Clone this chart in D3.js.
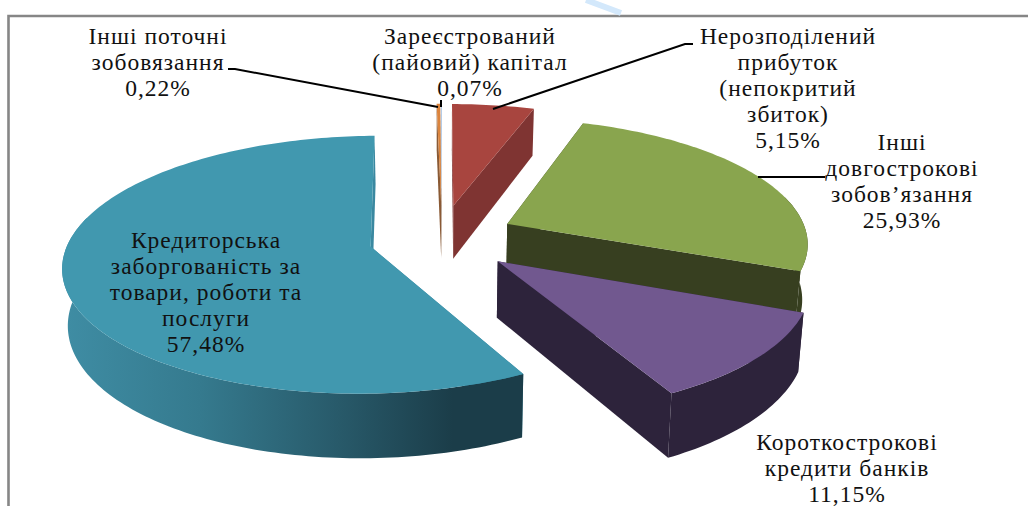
<!DOCTYPE html>
<html>
<head>
<meta charset="utf-8">
<script src="https://cdn.jsdelivr.net/npm/d3@7/dist/d3.min.js"></script>
<style>
html,body{margin:0;padding:0;background:#fff;overflow:hidden}
svg{display:block}
text{font-family:"Liberation Serif","Times New Roman",serif;font-size:23.5px;letter-spacing:1px;fill:#111;text-anchor:middle}
</style>
</head>
<body>
<svg id="c" width="1028" height="506"></svg>
<script>
// ---- data ----
const categories = [
  ["Нерозподілений","прибуток","(непокритий","збиток)"],
  ["Інші","довгострокові","зобов’язання"],
  ["Короткострокові","кредити банків"],
  ["Кредиторська","заборгованість за","товари, роботи та","послуги"],
  ["Інші поточні","зобовязання"],
  ["Зареєстрований","(пайовий) капітал"]
];
const values = [5.15, 25.93, 11.15, 57.48, 0.22, 0.07];
const valueLabels = ["5,15%","25,93%","11,15%","57,48%","0,22%","0,07%"];

// ---- style / layout ----
const topColors  = ["#A8453F","#89A54E","#71588F","#4198AF","#DB843D","#A9C4E4"];
const edgeColors = ["#7F3432","#373F20","#2D233B","#3A88A0","#8A5A35","#B8AFA8"];
const rimColors  = ["#7F3432","#373F20","#2D233B","url(#tealRim)","#8A5A35","#B8AFA8"];
const labelX = [788, 902, 847, 206, 158, 470];
const labelY = [37, 143, 443, 241, 37, 37];
const labelStep = 26;
const leaders = [
  [[693,44],[685,44],[493,109]],
  [[825,177],[758,177]],
  [],
  [],
  [[235,69],[228,69],[235,69],[438,107]],
  [[441,100],[441,107]]
];
const paintOrder = [0,5,4,1,3,2];

const cx = 442, cy = 238, Rx = 301, Ry = 124, persp = 0.139;
const explodeX = 73 / Rx, explodeY = 34 / Ry;
const depth = 55, bottomShrink = 0.985;

const svg = d3.select("#c");
const defs = svg.append("defs");
const grad = defs.append("linearGradient").attr("id","tealRim")
  .attr("gradientUnits","userSpaceOnUse").attr("x1",62).attr("x2",522).attr("y1",0).attr("y2",0);
[[0,"#3F8DA4"],[0.3,"#357A8E"],[0.6,"#285A6A"],[0.85,"#1B3D49"],[1,"#1B3D49"]]
  .forEach(d => grad.append("stop").attr("offset",d[0]).attr("stop-color",d[1]));

// frame and the stray pale stroke above it
svg.append("path").attr("d","M8.5,506V16H1028").attr("fill","none").attr("stroke","#868686").attr("stroke-width",2.6);
svg.append("path").attr("d","M586,0L621,13").attr("stroke","#D3E8FB").attr("stroke-width",6).attr("fill","none");

const scaleX = d3.scaleLinear().domain([-1,1]).range([cx-Rx,cx+Rx]);
const scaleY = d3.scaleLinear().domain([-1,1]).range([cy+Ry,cy-Ry]);
function project(X,Y,bottom){
  const s = 1/(1+persp*Y);
  let x = cx + (scaleX(X)-cx)*s;
  let y = cy + (scaleY(Y)-cy)*s;
  if(bottom){ x = cx + (x-cx)*bottomShrink; y += depth*s; }
  return [x,y];
}
const line = d3.line();
const pie = d3.pie().sort(null).startAngle(0).endAngle(2*Math.PI);
const arcs = pie(values);

paintOrder.forEach(i=>{
  const a = arcs[i], mid = (a.startAngle+a.endAngle)/2;
  const ox = Math.sin(mid)*explodeX, oy = Math.cos(mid)*explodeY;
  const n = Math.max(2, Math.ceil((a.endAngle-a.startAngle)/0.02));
  const angles = d3.range(n+1).map(k=>a.startAngle+(a.endAngle-a.startAngle)*k/n);
  const pt = (t,b) => project(ox+Math.sin(t),oy+Math.cos(t),b);
  const apex = b => project(ox,oy,b);
  const g = svg.append("g");
  const rimT = angles.map(t=>pt(t,false));
  const wall = t => line([apex(false),pt(t,false),pt(t,true),apex(true)])+"Z";
  // radial walls
  g.append("path").attr("d",wall(a.startAngle)).attr("fill",edgeColors[i]);
  g.append("path").attr("d",wall(a.endAngle)).attr("fill",edgeColors[i]);
  // outer wall: only the part turned towards the viewer
  const front = angles.filter(t=>Math.cos(t)<0.25);
  if(front.length>1){
    g.append("path")
      .attr("d",line(front.map(t=>pt(t,false)).concat(front.slice().reverse().map(t=>pt(t,true))))+"Z")
      .attr("fill",rimColors[i]);
  }
  // top face
  g.append("path").attr("d",line([apex(false)].concat(rimT))+"Z").attr("fill",topColors[i]);
});

// leaders
leaders.forEach(pts=>{
  if(pts.length) svg.append("path").attr("d",line(pts)).attr("fill","none").attr("stroke","#000").attr("stroke-width",2);
});

// labels
categories.forEach((lines,i)=>{
  const t = svg.append("text").attr("x",labelX[i]);
  lines.concat([valueLabels[i]]).forEach((s,k)=>{
    t.append("tspan").attr("x",labelX[i]).attr("y",labelY[i]+7+k*labelStep).text(s);
  });
});
</script>
</body>
</html>
